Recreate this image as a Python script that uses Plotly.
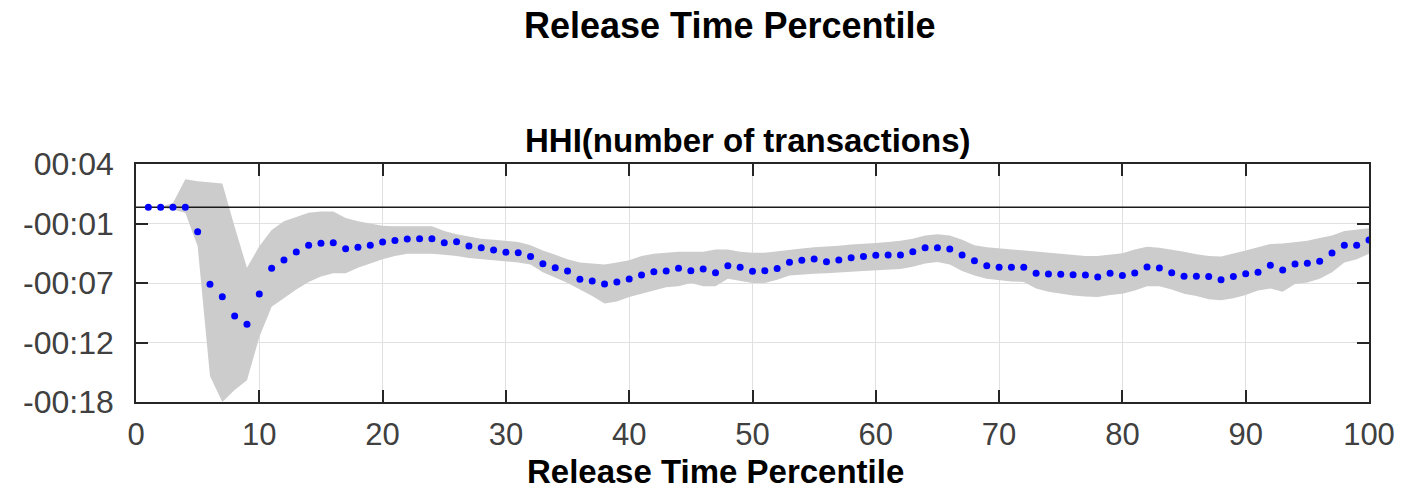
import plotly.graph_objects as go

# Release-time percentile (1..100)
percentile = list(range(1, 101))

# Mean effect of HHI (number of transactions), in seconds
mean_sec = [
    0.00, 0.00, 0.00, 0.00, -2.26, -7.12, -8.26, -10.05, -10.82, -8.02,
    -5.64, -4.87, -4.13, -3.52, -3.33, -3.27, -3.83, -3.70, -3.52, -3.21,
    -3.07, -2.93, -2.90, -2.90, -3.27, -3.18, -3.58, -3.74, -3.95, -4.16,
    -4.20, -4.54, -5.22, -5.58, -5.89, -6.66, -6.82, -7.09, -6.91, -6.63,
    -6.26, -5.95, -5.89, -5.64, -5.86, -5.71, -6.05, -5.40, -5.55, -5.92,
    -5.86, -5.66, -5.09, -4.90, -4.78, -5.03, -4.87, -4.66, -4.54, -4.44,
    -4.41, -4.41, -4.10, -3.74, -3.74, -3.86, -4.41, -4.94, -5.40, -5.55,
    -5.55, -5.55, -6.11, -6.17, -6.20, -6.23, -6.26, -6.44, -6.11, -6.30,
    -6.08, -5.53, -5.61, -6.05, -6.38, -6.38, -6.41, -6.69, -6.41, -6.14,
    -6.01, -5.37, -5.80, -5.24, -5.18, -5.00, -4.23, -3.52, -3.52, -3.03,
]

# Upper bound of the confidence band, in seconds
upper_sec = [
    0.05, 0.05, 0.40, 2.60, 2.40, 2.30, 2.20, -1.80, -5.60, -3.60,
    -2.10, -1.30, -0.90, -0.50, -0.40, -0.40, -1.00, -1.30, -1.50, -1.70,
    -1.75, -1.73, -1.73, -1.75, -2.20, -2.50, -2.70, -2.90, -3.00, -3.10,
    -3.20, -3.50, -4.00, -4.40, -4.80, -5.10, -5.20, -5.30, -5.10, -4.90,
    -4.50, -4.30, -4.20, -4.10, -4.10, -4.10, -3.90, -3.90, -4.10, -4.20,
    -4.20, -4.05, -3.90, -3.80, -3.70, -3.65, -3.55, -3.45, -3.40, -3.30,
    -3.20, -3.10, -2.90, -2.60, -2.50, -2.60, -3.00, -3.50, -3.70, -3.80,
    -3.90, -4.00, -4.10, -4.20, -4.30, -4.40, -4.50, -4.50, -4.40, -4.25,
    -3.90, -3.65, -3.75, -3.90, -4.10, -4.35, -4.50, -4.55, -4.30, -4.00,
    -3.70, -3.40, -3.35, -3.20, -3.10, -2.85, -2.60, -2.20, -2.10, -1.95,
]

# Lower bound of the confidence band, in seconds
lower_sec = [
    -0.05, -0.05, -0.20, -0.50, -3.60, -15.60, -18.00, -16.90, -16.00, -12.00,
    -9.20, -8.40, -7.60, -6.90, -6.40, -6.10, -6.10, -5.60, -5.20, -4.80,
    -4.50, -4.30, -4.30, -4.30, -4.40, -4.50, -4.70, -4.80, -4.90, -5.00,
    -5.10, -5.30, -6.00, -6.50, -7.00, -7.60, -8.20, -8.90, -8.70, -8.30,
    -8.00, -7.70, -7.40, -7.30, -7.00, -7.30, -7.30, -6.60, -6.80, -7.00,
    -7.00, -6.70, -6.30, -6.20, -6.15, -6.10, -6.00, -5.95, -5.90, -5.85,
    -5.80, -5.70, -5.50, -5.20, -5.05, -5.30, -5.90, -6.30, -6.60, -6.75,
    -6.85, -6.90, -7.50, -7.80, -8.00, -8.15, -8.25, -8.30, -8.10, -8.00,
    -7.70, -7.30, -7.30, -7.60, -8.00, -8.20, -8.50, -8.60, -8.40, -8.10,
    -7.70, -7.50, -7.80, -7.10, -6.95, -6.60, -6.00, -5.10, -4.80, -4.30,
]

# Axis ticks
x_ticks = [0, 10, 20, 30, 40, 50, 60, 70, 80, 90, 100]
y_tick_vals = [4, -1.5, -7, -12.5, -18]
y_tick_text = ["00:04", "-00:01", "-00:07", "-00:12", "-00:18"]
zero_ref = [0, 0]
zero_span = [0, 100]

FONT = "Liberation Sans, Arial, Helvetica, sans-serif"
AXIS_COLOR = "#262626"
TICK_FONT_COLOR = "#404040"

fig = go.Figure()

# Confidence band
fig.add_trace(go.Scatter(
    x=percentile, y=upper_sec, mode="lines",
    line=dict(width=0, color="rgba(0,0,0,0)"),
    hoverinfo="skip", showlegend=False,
))
fig.add_trace(go.Scatter(
    x=percentile, y=lower_sec, mode="lines",
    line=dict(width=0, color="rgba(0,0,0,0)"),
    fill="tonexty", fillcolor="#cccccc",
    hoverinfo="skip", showlegend=False,
))

# Zero reference line
fig.add_trace(go.Scatter(
    x=zero_span, y=zero_ref, mode="lines",
    line=dict(color="#1a1a1a", width=1.6),
    hoverinfo="skip", showlegend=False,
))

# Point estimates
fig.add_trace(go.Scatter(
    x=percentile, y=mean_sec, mode="markers",
    marker=dict(color="#0000ff", size=7, line=dict(width=0)),
    showlegend=False,
))

fig.update_xaxes(
    range=[0, 100], tickvals=x_ticks,
    showgrid=True, gridcolor="#e0e0e0", gridwidth=1,
    showline=True, linecolor=AXIS_COLOR, linewidth=1.6, mirror="ticks",
    ticks="inside", ticklen=12, tickwidth=1.6, tickcolor=AXIS_COLOR,
    tickfont=dict(family=FONT, size=31, color=TICK_FONT_COLOR),
    ticklabelstandoff=4, zeroline=False,
)
fig.update_yaxes(
    range=[-18, 4], tickvals=y_tick_vals, ticktext=y_tick_text,
    showgrid=True, gridcolor="#e0e0e0", gridwidth=1,
    showline=True, linecolor=AXIS_COLOR, linewidth=1.6, mirror="ticks",
    ticks="inside", ticklen=12, tickwidth=1.6, tickcolor=AXIS_COLOR,
    tickfont=dict(family=FONT, size=32, color=TICK_FONT_COLOR),
    ticklabelstandoff=14, zeroline=False,
)

fig.update_layout(
    width=1421, height=497,
    margin=dict(l=136, r=52, t=164, b=95),
    paper_bgcolor="white", plot_bgcolor="white",
    font=dict(family=FONT, color="black"),
    annotations=[
        dict(text="<b>Release Time Percentile</b>", xref="paper", yref="paper",
             x=0.4818, y=1.584, xanchor="center", yanchor="middle",
             showarrow=False, font=dict(family=FONT, size=36, color="black")),
        dict(text="<b>HHI(number of transactions)</b>", xref="paper", yref="paper",
             x=0.4964, y=1.1008, xanchor="center", yanchor="middle",
             showarrow=False, font=dict(family=FONT, size=33, color="black")),
        dict(text="<b>Release Time Percentile</b>", xref="paper", yref="paper",
             x=0.4703, y=-0.2920, xanchor="center", yanchor="middle",
             showarrow=False, font=dict(family=FONT, size=33, color="black")),
    ],
)

fig.write_html("out.html")
